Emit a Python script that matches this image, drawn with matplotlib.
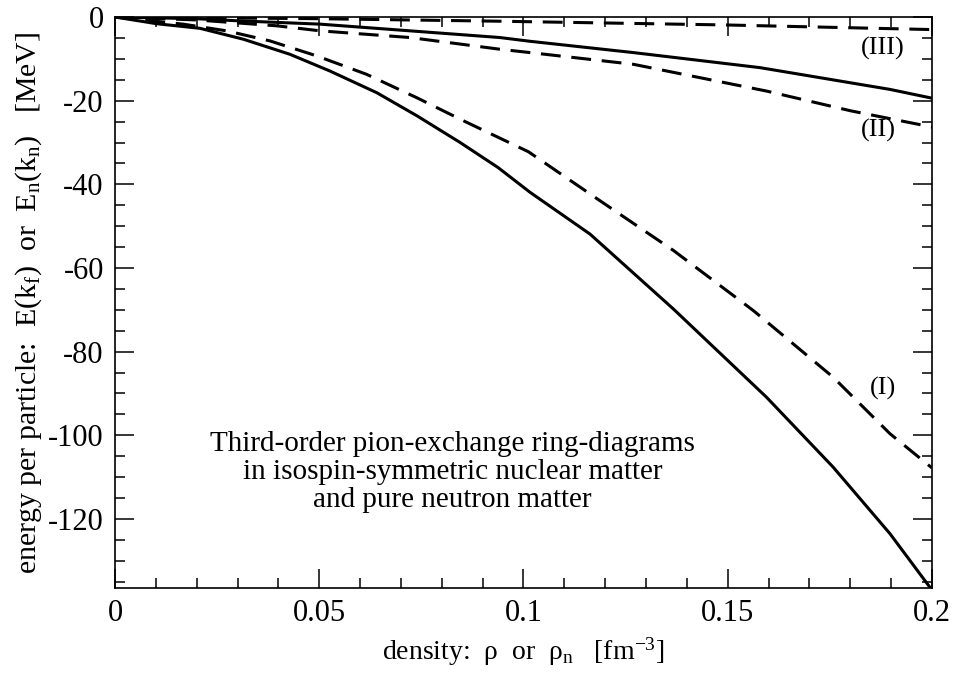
import numpy as np
import matplotlib
matplotlib.use('Agg')
import matplotlib.pyplot as plt
from matplotlib.ticker import MultipleLocator

plt.rcParams['font.family'] = ['Liberation Serif', 'DejaVu Serif']
plt.rcParams['mathtext.fontset'] = 'custom'
plt.rcParams['mathtext.rm'] = 'Liberation Serif'
plt.rcParams['mathtext.it'] = 'Liberation Serif:italic'

# solid (I): symmetric nuclear matter
rho_s1 = [0.0, 0.0102, 0.0208, 0.0314, 0.0428, 0.0526, 0.0641, 0.0739, 0.0845,
          0.0938, 0.1016, 0.1163, 0.1367, 0.1595, 0.1758, 0.1897, 0.2]
e_s1 = [0.0, -1.6, -2.7, -5.3, -8.9, -12.9, -18.1, -23.6, -30.0,
        -36.0, -41.9, -51.9, -69.8, -90.9, -107.6, -123.5, -137.0]

# dashed (I)
rho_d1 = [0.0, 0.0167, 0.0273, 0.0379, 0.0494, 0.0616, 0.0739, 0.0853, 0.1012,
          0.1187, 0.1367, 0.1563, 0.1758, 0.1897, 0.2]
e_d1 = [0.0, -1.7, -3.3, -5.7, -9.3, -13.7, -19.3, -24.8, -32.2,
        -43.9, -55.8, -70.2, -86.1, -99.6, -107.8]

# solid (III)
rho_s3 = [0.0, 0.02, 0.03, 0.0502, 0.0942, 0.1016, 0.1269, 0.1579, 0.1897, 0.2]
e_s3 = [0.0, -0.4, -0.9, -1.7, -4.9, -5.8, -8.5, -12.1, -17.3, -19.4]

# dashed (II)
rho_d2 = [0.0, 0.02, 0.0396, 0.0502, 0.0722, 0.0942, 0.1016, 0.1269, 0.1595, 0.18, 0.2]
e_d2 = [0.0, -0.7, -2.1, -3.3, -4.9, -7.7, -8.5, -11.3, -17.7, -22.4, -26.3]

# dashed (III)
rho_d3 = [0.0, 0.05, 0.094, 0.1497, 0.2]
e_d3 = [0.0, -0.4, -1.0, -1.9, -3.0]

fig = plt.figure(figsize=(9.55, 6.73), dpi=100)
ax = fig.add_axes([0.1204, 0.1263, 0.8555, 0.8484])

lw = 2.2
dash = (6.5, 3.5)
ax.plot(rho_s1, e_s1, color='black', lw=lw)
ax.plot(rho_d1, e_d1, color='black', lw=lw, dashes=dash)
ax.plot(rho_s3, e_s3, color='black', lw=lw)
ax.plot(rho_d2, e_d2, color='black', lw=lw, dashes=dash)
ax.plot(rho_d3, e_d3, color='black', lw=lw, dashes=dash)

ax.set_xlim(0, 0.2)
ax.set_ylim(-136.5, 0)
ax.xaxis.set_minor_locator(MultipleLocator(0.01))
ax.yaxis.set_minor_locator(MultipleLocator(5))
ax.set_xticks([0, 0.05, 0.1, 0.15, 0.2])
ax.set_xticklabels(['0', '0.05', '0.1', '0.15', '0.2'])
ax.set_yticks([0, -20, -40, -60, -80, -100, -120])
ax.set_yticklabels(['0', '-20', '-40', '-60', '-80', '-100', '-120'])

ax.tick_params(which='both', direction='in', top=True, right=True, width=1.1,
               labelsize=22, pad=8)
ax.tick_params(which='major', length=14)
ax.tick_params(which='minor', length=7)
for s in ax.spines.values():
    s.set_linewidth(1.2)

ax.set_xlabel('density:  ρ  or  ρ$_{\\rm n}$   [fm$^{-3}$]', fontsize=20, labelpad=5)
ax.set_ylabel('energy per particle:  E(k$_{\\rm f}$)  or  E$_{\\rm n}$(k$_{\\rm n}$)   [MeV]',
              fontsize=21.5, labelpad=3)

ax.text(0.0826, -108.8, 'Third-order pion-exchange ring-diagrams\n'
        'in isospin-symmetric nuclear matter\nand pure neutron matter',
        ha='center', va='center', fontsize=21, linespacing=1.1)

ax.text(0.188, -7.4, '(III)', ha='center', va='center', fontsize=19)
ax.text(0.1868, -27.2, '(II)', ha='center', va='center', fontsize=19)
ax.text(0.188, -88.8, '(I)', ha='center', va='center', fontsize=19)

fig.savefig('out.png', dpi=100)
